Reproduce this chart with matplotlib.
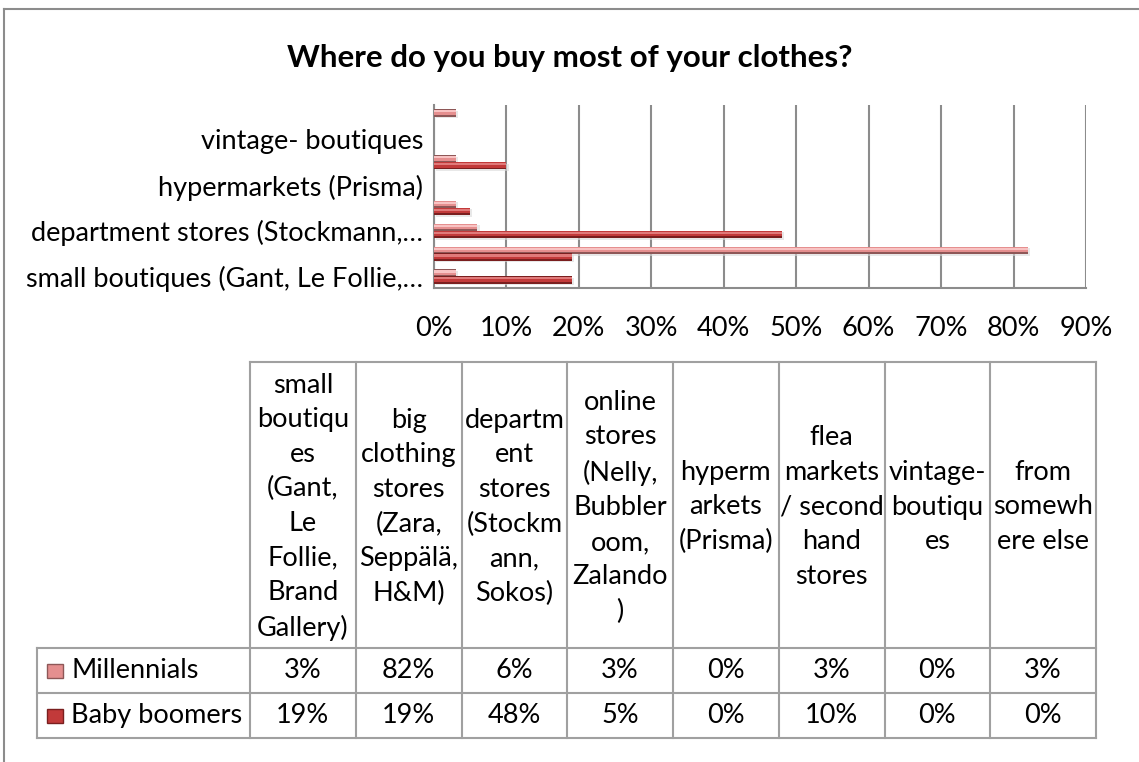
import numpy as np
import matplotlib.pyplot as plt
from matplotlib.patches import Rectangle
from matplotlib.lines import Line2D

plt.rcParams['font.family'] = ['Lato', 'DejaVu Sans']

categories = ["small boutiques (Gant, Le Follie, Brand Gallery)",
              "big clothing stores (Zara, Seppälä, H&M)",
              "department stores (Stockmann, Sokos)",
              "online stores (Nelly, Bubbleroom, Zalando)",
              "hypermarkets (Prisma)",
              "flea markets / second hand stores",
              "vintage- boutiques",
              "from somewhere else"]
axis_labels = ["small boutiques (Gant, Le Follie,\u2026", "",
               "department stores (Stockmann,\u2026", "",
               "hypermarkets (Prisma)", "",
               "vintage- boutiques", ""]
header_labels = ["small\nboutiqu\nes\n(Gant,\nLe\nFollie,\nBrand\nGallery)",
                 "big\nclothing\nstores\n(Zara,\nSeppälä,\nH&M)",
                 "departm\nent\nstores\n(Stockm\nann,\nSokos)",
                 "online\nstores\n(Nelly,\nBubbler\noom,\nZalando\n)",
                 "hyperm\narkets\n(Prisma)",
                 "flea\nmarkets\n/ second\nhand\nstores",
                 "vintage-\nboutiqu\nes",
                 "from\nsomewh\nere else"]
series_names = ["Millennials", "Baby boomers"]
millennials = [3, 82, 6, 3, 0, 3, 0, 3]
baby_boomers = [19, 19, 48, 5, 0, 10, 0, 0]

W, H = 1139, 762
FS = 19.5
fig = plt.figure(figsize=(W / 100, H / 100), dpi=100)

def fx(x):
    return x / W

def fy(y):
    return 1 - y / H

# outer frame
fig.add_artist(Line2D([fx(4), fx(1139)], [fy(9), fy(9)], color='#8c8c8c', lw=1.5))
fig.add_artist(Line2D([fx(4), fx(4)], [fy(9), fy(762)], color='#8c8c8c', lw=1.5))

fig.text(fx(570), fy(58), "Where do you buy most of your clothes?", ha='center', va='center',
         fontsize=22.5, fontweight='bold')

ax = fig.add_axes([fx(434), fy(288), fx(1086) - fx(434), (288 - 105) / H])

styles = {
    "Millennials": dict(dark='#8e5757', main='#e58f8f', light='#f8c3c3'),
    "Baby boomers": dict(dark='#7a1f1f', main='#c23a3a', light='#e07a7a'),
}
y = np.arange(len(categories))
h = 0.32
for vals, name, off in [(millennials, "Millennials", 0.15), (baby_boomers, "Baby boomers", -0.15)]:
    v = np.array(vals) / 100
    st = styles[name]
    yy = y + off
    # soft shadow
    ax.barh(yy - 0.07, v, height=h, left=0.003, color='#d9d9d9', alpha=0.6, zorder=2)
    ax.barh(yy, v, height=h, color=st['dark'], zorder=3)
    ax.barh(yy + h * 0.08, v, height=h * 0.7, color=st['main'], zorder=4)
    ax.barh(yy + h * 0.22, v, height=h * 0.3, color=st['light'], zorder=5)

ax.set_xlim(0, 0.9)
ax.set_ylim(-0.5, len(categories) - 0.5)
ax.set_xticks(np.arange(0, 0.91, 0.1))
ax.set_xticklabels([f"{int(round(t * 100))}%" for t in np.arange(0, 0.91, 0.1)], fontsize=FS)
ax.set_yticks(y)
ax.set_yticklabels(axis_labels, fontsize=FS)
ax.tick_params(axis='both', length=0)
ax.tick_params(axis='x', pad=20)
ax.tick_params(axis='y', pad=8)
ax.grid(axis='x', color='#8c8c8c', lw=1.5, zorder=0)
ax.set_axisbelow(True)
for s in ['top', 'right']:
    ax.spines[s].set_visible(False)
for s in ['left', 'bottom']:
    ax.spines[s].set_color('#8c8c8c')
    ax.spines[s].set_linewidth(1.5)

# data table
col_x = np.linspace(250, 1096, len(categories) + 1)
tbl_left = 37
y_top, y_head, y_r1, y_r2 = 362, 648, 693, 738
lc = '#a0a0a0'
lw = 1.5

def hline(x0, x1, yv):
    fig.add_artist(Line2D([fx(x0), fx(x1)], [fy(yv), fy(yv)], color=lc, lw=lw))

def vline(xv, y0, y1):
    fig.add_artist(Line2D([fx(xv), fx(xv)], [fy(y0), fy(y1)], color=lc, lw=lw))

hline(col_x[0], col_x[-1], y_top)
for yv in [y_head, y_r1, y_r2]:
    hline(tbl_left, col_x[-1], yv)
for xv in col_x:
    vline(xv, y_top, y_r2)
vline(tbl_left, y_head, y_r2)

for i, lab in enumerate(header_labels):
    cx = (col_x[i] + col_x[i + 1]) / 2
    fig.text(fx(cx), fy((y_top + y_head) / 2 + 2), lab, ha='center', va='center',
             fontsize=FS, linespacing=1.48)

rows = [(series_names[0], millennials, y_head, y_r1), (series_names[1], baby_boomers, y_r1, y_r2)]
for name, vals, r0, r1 in rows:
    cy = (r0 + r1) / 2
    st = styles[name]
    fig.add_artist(Rectangle((fx(47), fy(cy + 7)), fx(16), 14 / H, facecolor=st['main'],
                             edgecolor=st['dark'], lw=1))
    fig.text(fx(71), fy(cy), name, ha='left', va='center', fontsize=FS)
    for i, v in enumerate(vals):
        cx = (col_x[i] + col_x[i + 1]) / 2
        fig.text(fx(cx), fy(cy), f"{v}%", ha='center', va='center', fontsize=FS)

fig.savefig('out.png', dpi=100)
